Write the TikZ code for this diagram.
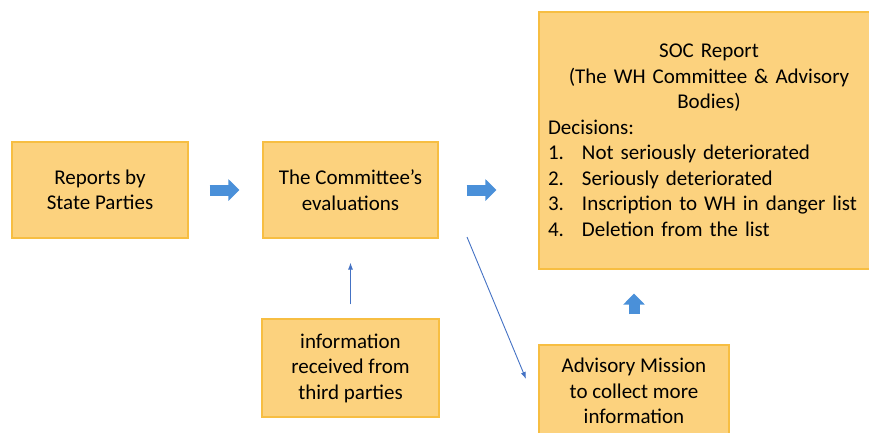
\documentclass[tikz,border=0pt]{standalone}
\usepackage{fontspec}
\setmainfont{Carlito}
\usetikzlibrary{arrows.meta}

\definecolor{boxfill}{RGB}{252,210,126}
\definecolor{boxline}{RGB}{247,190,66}
\definecolor{fatblue}{RGB}{74,144,217}
\definecolor{thinblue}{RGB}{68,114,196}

\begin{document}
\begin{tikzpicture}[x=1pt, y=-1pt]
\tikzset{ >={Latex[length=7pt,width=5pt]},
  box/.style={fill=boxfill, draw=boxline, line width=1.2pt, inner sep=0pt, align=center,
              font=\fontsize{21}{25.5}\selectfont, text=black},
  fat/.style={fatblue, line width=11pt, -{Triangle[length=11pt,width=21pt]}},
  thin/.style={thinblue, line width=0.9pt, ->},
}

\useasboundingbox (0,0) rectangle (869,432);

\node [box, minimum width=176pt, minimum height=96pt] (reports) at (100,190) {Reports by\\State Parties};
\node [box, minimum width=175pt, minimum height=96pt] (evals)   at (350.5,190) {The Committee's\\evaluations};
\node [box, minimum width=177pt, minimum height=98pt] (info)    at (350.5,368) {information\\received from\\third parties};
\node [box, minimum width=190pt, minimum height=92pt] (mission) at (634,391) {Advisory Mission\\to collect more\\information};

\node [box, inner xsep=9pt, text width=322pt, minimum height=257pt, align=left] (soc) at (709,140.5)
  {{\centering SOC Report\\(The WH Committee \& Advisory\\Bodies)\par}
   Decisions:\\
   \makebox[34pt][l]{1.}Not seriously deteriorated\\
   \makebox[34pt][l]{2.}Seriously deteriorated\\
   \makebox[34pt][l]{3.}Inscription to WH in danger list\\
   \makebox[34pt][l]{4.}Deletion from the list};

%\draw [lightgray] (0,0) grid[step=50] (869,432);

\draw [fat, shorten <=21pt, shorten >=23pt] (reports) -- (evals);
\draw [fat, shorten <=28pt, shorten >=42pt] (evals) -- (evals -| soc.west);
\draw [fat, shorten <=30pt, shorten >=24pt] (mission) -- (mission |- soc.south);

\coordinate (diagstart) at (467,237);
\coordinate (diagend)   at (526,379);

\draw [thin, shorten <=14pt, shorten >=24pt] (info) -- (evals);
\draw [thin] (diagstart) -- (diagend);

\end{tikzpicture}
\end{document}
